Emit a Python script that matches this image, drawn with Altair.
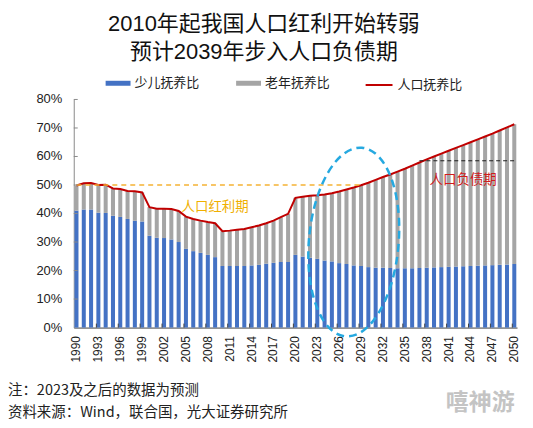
import altair as alt
import pandas as pd

# ---------------- data ----------------
years = list(range(1990, 2051))
child = [41.0, 41.4, 41.4, 40.3, 40.2, 39.2, 38.8, 38.1, 37.5, 37.2,
         32.2, 31.5, 31.4, 30.9, 30.0, 27.6, 26.8, 26.2, 25.5, 24.7,
         21.6, 21.6, 21.6, 21.6, 21.8, 22.0, 22.4, 22.7, 23.0, 23.0,
         25.5, 24.9, 24.5, 24.1, 23.5, 23.2, 22.6, 22.3, 21.8, 21.6,
         21.2, 21.0, 21.0, 20.9, 20.8, 20.8, 20.8, 20.9, 21.0, 21.1,
         21.2, 21.3, 21.4, 21.5, 21.6, 21.7, 21.8, 21.9, 22.0, 22.1,
         22.3]
total = [49.8, 50.6, 50.7, 50.0, 50.1, 48.8, 48.6, 47.9, 47.8, 47.4,
         42.2, 41.7, 41.7, 41.6, 40.9, 38.9, 38.1, 37.5, 37.0, 36.6,
         33.8, 34.0, 34.3, 34.6, 35.2, 35.8, 36.6, 37.5, 38.7, 39.9,
         45.5, 45.9, 46.2, 46.4, 46.7, 47.1, 47.7, 48.4, 49.1, 49.9,
         50.8, 51.8, 52.8, 53.7, 54.7, 55.7, 56.8, 57.9, 59.0, 60.0,
         61.0, 62.0, 63.0, 64.0, 65.0, 66.0, 67.0, 68.0, 69.1, 70.2,
         71.3]
series_names = ["少儿抚养比", "老年抚养比", "人口抚养比"]
series_colors = ["#4472c4", "#a5a5a5", "#c00000"]
title_lines = ["2010年起我国人口红利开始转弱", "预计2039年步入人口负债期"]
notes = ["注：2023及之后的数据为预测", "资料来源：Wind，联合国，光大证券研究所"]
watermark = ["嘻神游"]
y_ticks = [0, 10, 20, 30, 40, 50, 60, 70, 80]
x_label_years = [str(y) for y in range(1990, 2051, 3)]
x_tick_years = [str(y) for y in range(1993, 2051, 3)]

bonus_text = ["人口红利期"]
bonus_text_pos = [("2009", 42.3)]
bonus_rule = [("1990", "2029", 50.0)]
debt_text = ["人口负债期"]
debt_text_pos = [("2043", 51.7)]
debt_rule = [("2037", "2050", 58.5)]
ellipse_center = [("2028", 30.0)]

# ---------------- tables ----------------
year_strs = [str(y) for y in years]
rows = []
for y, c, t in zip(year_strs, child, total):
    rows.append({"year": y, "series": series_names[0], "value": c, "ord": 0})
    rows.append({"year": y, "series": series_names[1], "value": round(t - c, 1), "ord": 1})
df_bars = pd.DataFrame(rows)
df_line = pd.DataFrame({"year": year_strs, "total": total, "name": series_names[2]})

W, H = 445, 229
FONT = "Liberation Sans, Noto Sans CJK SC"
CJK = "Noto Sans CJK SC"

xscale = alt.Scale(domain=year_strs, paddingInner=0.45, paddingOuter=0.1)
yscale = alt.Scale(domain=[0, 80], nice=False)
xaxis = alt.Axis(values=x_label_years, labelAngle=270, title=None, ticks=False,
                 domainColor="#404040", labelFontSize=12, labelPadding=8,
                 labelColor="#222222", labelFont=FONT)
# y labels are drawn by the tick-label text layer below (value + '%')
yaxis = alt.Axis(labels=False, title=None, ticks=False, grid=False, domainColor="#8a8a8a")


def X(field, **kw):
    return alt.X(field, scale=xscale, axis=xaxis, **kw)


def Y(field, **kw):
    return alt.Y(field, scale=yscale, axis=yaxis, **kw)


bars = alt.Chart(df_bars).mark_bar().encode(
    x=X("year:O"),
    y=Y("value:Q", stack="zero"),
    fill=alt.Fill("series:N",
                  scale=alt.Scale(domain=series_names[:2], range=series_colors[:2]),
                  legend=alt.Legend(title=None, orient="none", legendX=32, legendY=-29,
                                    direction="horizontal", symbolType="M-1,-0.2H1V0.2H-1Z",
                                    symbolSize=625, symbolStrokeWidth=0, labelFontSize=13,
                                    labelOffset=4, columnPadding=36, labelFont=CJK,
                                    labelColor="#222222")),
    order=alt.Order("ord:Q"),
)

line = alt.Chart(df_line).mark_line(strokeWidth=2).encode(
    x=X("year:O"),
    y=Y("total:Q"),
    stroke=alt.Stroke("name:N",
                      scale=alt.Scale(domain=[series_names[2]], range=[series_colors[2]]),
                      legend=alt.Legend(title=None, orient="none", legendX=292, legendY=-29,
                                        direction="horizontal", symbolType="M-1,0H1",
                                        symbolSize=729, symbolStrokeWidth=2, labelFontSize=13,
                                        labelOffset=4, labelFont=CJK, labelColor="#222222")),
)

df_bonus_rule = pd.DataFrame(bonus_rule, columns=["start", "end", "level"])
bonus_r = alt.Chart(df_bonus_rule).mark_rule(color="#f5b335", strokeWidth=1.5, strokeDash=[5, 4]).encode(
    x=X("start:O"), x2="end", y=Y("level:Q"))

df_debt_rule = pd.DataFrame(debt_rule, columns=["start", "end", "level"])
debt_r = alt.Chart(df_debt_rule).mark_rule(color="#222222", strokeWidth=1.2, strokeDash=[4, 3]).encode(
    x=X("start:O"), x2="end", y=Y("level:Q"))

df_bonus_t = pd.DataFrame([(p[0], p[1], t) for p, t in zip(bonus_text_pos, bonus_text)],
                          columns=["year", "v", "label"])
bonus_t = alt.Chart(df_bonus_t).mark_text(color="#f0b000", fontSize=13.5, font=CJK).encode(
    x=X("year:O"), y=Y("v:Q"), text="label:N")

df_debt_t = pd.DataFrame([(p[0], p[1], t) for p, t in zip(debt_text_pos, debt_text)],
                         columns=["year", "v", "label"])
debt_t = alt.Chart(df_debt_t).mark_text(color="#d01c1c", fontSize=13.5, font=CJK).encode(
    x=X("year:O"), y=Y("v:Q"), text="label:N")

df_ell = pd.DataFrame(ellipse_center, columns=["year", "v"])
ellipse = alt.Chart(df_ell).mark_point(
    shape="M-0.474,0A0.474,1,0,1,0,0.474,0A0.474,1,0,1,0,-0.474,0Z",
    size=36100, filled=False, stroke="#26a9e0", strokeWidth=2.5, strokeDash=[8, 5],
    angle=5, opacity=1).encode(x=X("year:O"), y=Y("v:Q"))

df_yt = pd.DataFrame({"t": y_ticks[1:]})
ytick = alt.Chart(df_yt).mark_rule(color="#8a8a8a").encode(
    y=Y("t:Q"), x=alt.value(0), x2=alt.value(4))

df_yl = pd.DataFrame({"t": y_ticks, "lab": [f"{v}%" for v in y_ticks]})
ylabels = alt.Chart(df_yl).mark_text(
    align="right", baseline="middle", fontSize=13, font=FONT, color="#222222").encode(
    y=Y("t:Q"), x=alt.value(-11.5), text="lab:N")

df_xt = pd.DataFrame({"year": x_tick_years})
xtick = alt.Chart(df_xt).mark_rule(color="#404040").encode(
    x=X("year:O", bandPosition=0), y=alt.value(H), y2=alt.value(H - 4))

note1 = alt.Chart(pd.DataFrame({"t": [notes[0]]})).mark_text(
    align="left", baseline="middle", fontSize=14.5, font=CJK, color="#222222").encode(
    text="t:N", x=alt.value(-66), y=alt.value(293))
note2 = alt.Chart(pd.DataFrame({"t": [notes[1]]})).mark_text(
    align="left", baseline="middle", fontSize=14.5, font=CJK, color="#222222").encode(
    text="t:N", x=alt.value(-66), y=alt.value(315))
wm = alt.Chart(pd.DataFrame({"t": watermark})).mark_text(
    align="center", baseline="middle", fontSize=23, fontWeight="bold", font=CJK,
    color="#c4c4c4").encode(text="t:N", x=alt.value(408), y=alt.value(305))

chart = alt.layer(
    bars, line, bonus_r, debt_r, bonus_t, debt_t, ellipse, ytick, ylabels, xtick,
    note1, note2, wm
).properties(
    width=W, height=H,
    title=alt.TitleParams(text=title_lines, fontSize=22, font=FONT, fontWeight="normal",
                          color="#111111", anchor="middle", frame="bounds", lineHeight=28,
                          offset=7),
    padding={"left": 0, "top": 4, "right": 5, "bottom": 5},
).configure_view(stroke=None)

chart.save("out.html", embed_options={"renderer": "svg", "actions": False})
